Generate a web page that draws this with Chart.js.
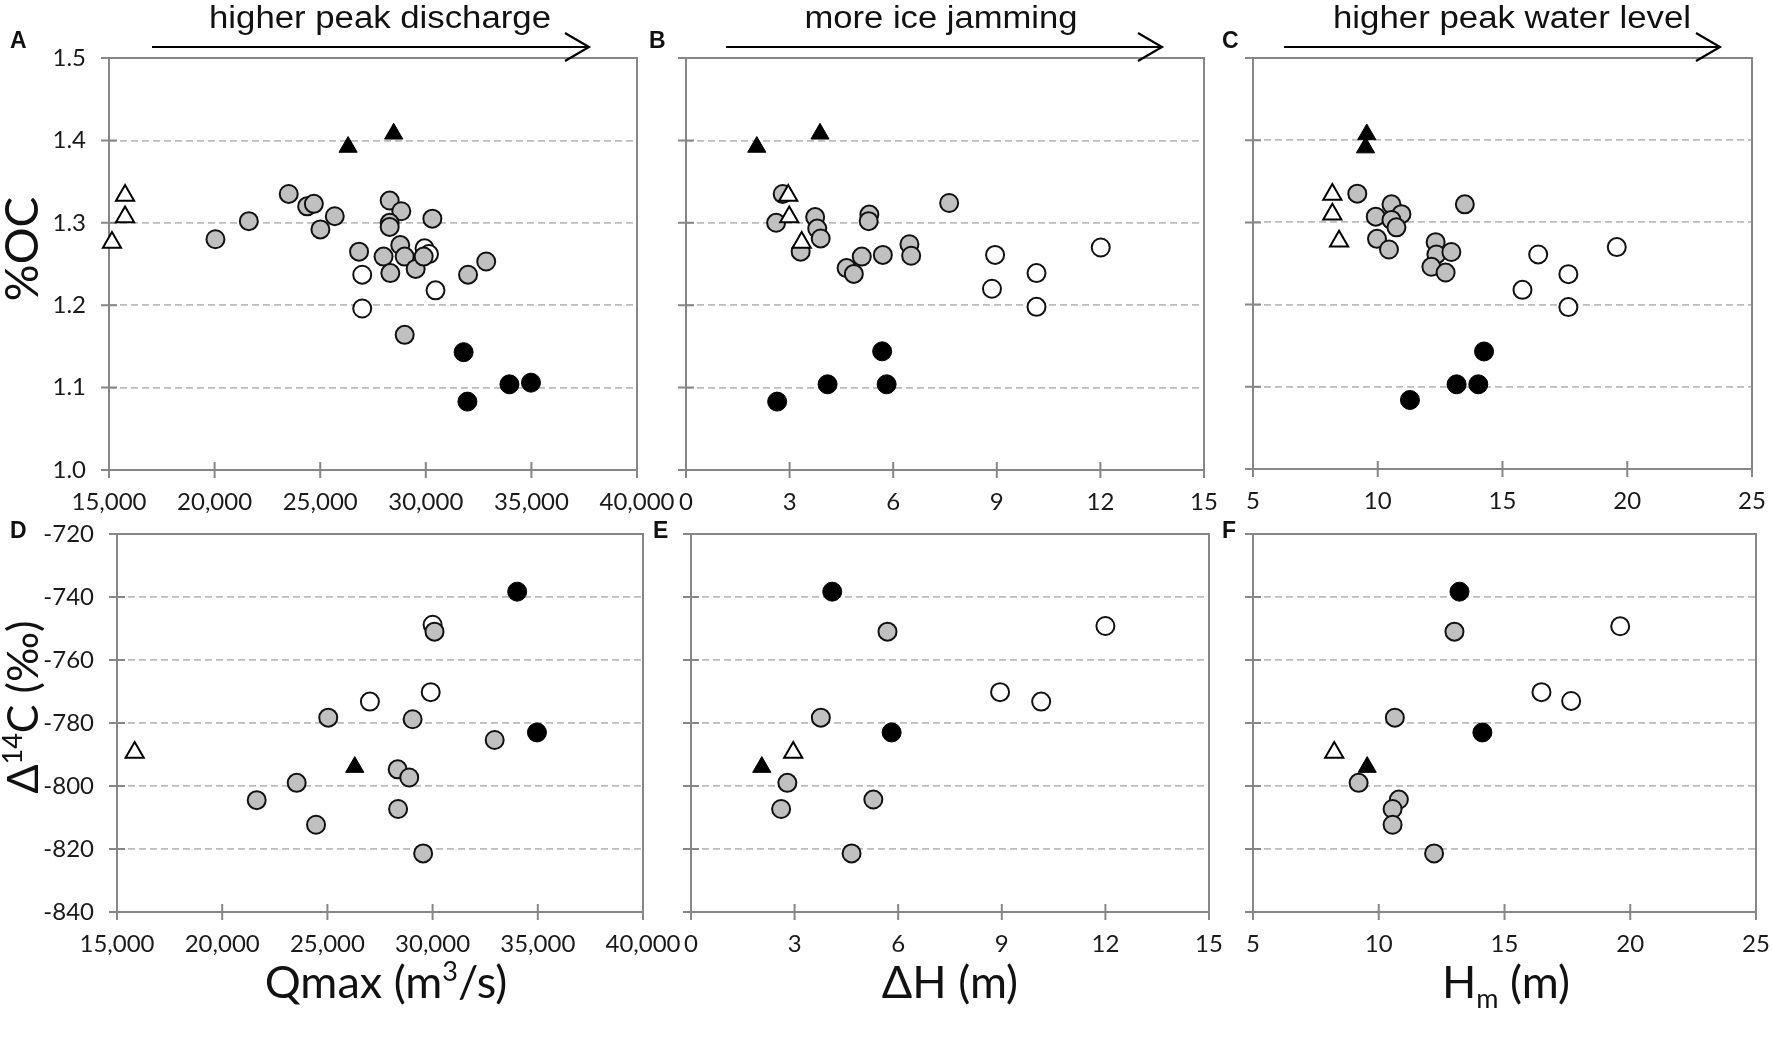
<!DOCTYPE html>
<html>
<head>
<meta charset="utf-8">
<script src="https://cdn.jsdelivr.net/npm/chart.js@4.4.1/dist/chart.umd.min.js"></script>
<style>
  html, body { margin: 0; padding: 0; background: #fff; }
  #fig { position: relative; width: 1772px; height: 1050px; overflow: hidden; background: #fff; }
  .panel { position: absolute; }
  #overlay { position: absolute; left: 0; top: 0; font-family: Lato, 'Open Sans', sans-serif; fill: #111; }
  .note { font-family: 'Liberation Sans', Arial, sans-serif; font-size: 31px; }
  .tag { font-family: 'Liberation Sans', Arial, sans-serif; font-size: 23px; font-weight: bold; }
  .ttl { font-size: 45px; }
</style>
</head>
<body>
<div id="fig">
  <div class="panel" id="pA"><canvas id="cA"></canvas></div>
  <div class="panel" id="pB"><canvas id="cB"></canvas></div>
  <div class="panel" id="pC"><canvas id="cC"></canvas></div>
  <div class="panel" id="pD"><canvas id="cD"></canvas></div>
  <div class="panel" id="pE"><canvas id="cE"></canvas></div>
  <div class="panel" id="pF"><canvas id="cF"></canvas></div>

  <svg id="overlay" width="1772" height="1050">
    <g stroke="#000" stroke-width="2.2" fill="none">
      <line x1="152" y1="47" x2="589" y2="47"/><polyline points="565,33 589,47 565,61"/>
      <line x1="726" y1="47" x2="1162" y2="47"/><polyline points="1138,33 1162,47 1138,61"/>
      <line x1="1284" y1="47" x2="1720" y2="47"/><polyline points="1696,33 1720,47 1696,61"/>
    </g>
    <text class="note" x="380" y="28" text-anchor="middle" textLength="342" lengthAdjust="spacingAndGlyphs">higher peak discharge</text>
    <text class="note" x="941" y="28" text-anchor="middle" textLength="273" lengthAdjust="spacingAndGlyphs">more ice jamming</text>
    <text class="note" x="1512" y="28" text-anchor="middle" textLength="358" lengthAdjust="spacingAndGlyphs">higher peak water level</text>

    <text class="tag" x="10" y="48">A</text>
    <text class="tag" x="649" y="48">B</text>
    <text class="tag" x="1222" y="48">C</text>
    <text class="tag" x="10" y="538">D</text>
    <text class="tag" x="653" y="538">E</text>
    <text class="tag" x="1222" y="538">F</text>

    <text transform="translate(38,249) rotate(-90)" text-anchor="middle" font-size="46">%OC</text>
    <text transform="translate(38,707) rotate(-90)" text-anchor="middle" font-size="43">Δ<tspan dy="-16" font-size="27">14</tspan><tspan dy="16">C (‰)</tspan></text>

    <text class="ttl" x="386" y="998" text-anchor="middle">Qmax (m<tspan dy="-17" font-size="27">3</tspan><tspan dy="17">/s)</tspan></text>
    <text class="ttl" x="950" y="998" text-anchor="middle">ΔH (m)</text>
    <text class="ttl" x="1506" y="998" text-anchor="middle">H<tspan dy="10" font-size="27">m</tspan><tspan dy="-10"> (m)</tspan></text>
  </svg>
</div>

<script>
// tick values for each axis
const QMAX_TICKS = [15000, 20000, 25000, 30000, 35000, 40000];
const DH_TICKS = [0, 3, 6, 9, 12, 15];
const HM_TICKS = [5, 10, 15, 20, 25];
const OC_TICKS = [1.0, 1.1, 1.2, 1.3, 1.4, 1.5];
const C14_TICKS = [-840, -820, -800, -780, -760, -740, -720];

// A: %OC vs Qmax
const A_openTri = [[15760, 1.333], [15760, 1.307], [15140, 1.276]];
const A_blackTri = [[26320, 1.392], [28480, 1.408]];
const A_black = [[31790, 1.143], [31970, 1.083], [33960, 1.104], [34980, 1.106]];
const A_gray = [[20040, 1.280], [21620, 1.302], [23510, 1.335], [24380, 1.320], [24700, 1.323],
  [25690, 1.308], [25010, 1.292], [26840, 1.265], [28290, 1.327], [28840, 1.314], [28290, 1.300],
  [28290, 1.295], [30310, 1.305], [28000, 1.259], [28320, 1.239], [28790, 1.273], [29000, 1.259],
  [29520, 1.244], [29900, 1.259], [32000, 1.237], [32860, 1.253], [29000, 1.164]];
const A_open = [[26990, 1.237], [26990, 1.196], [29940, 1.269], [30150, 1.262], [30460, 1.218]];

// B: %OC vs dH
const B_openTri = [[2.96, 1.333], [2.99, 1.307], [3.35, 1.276]];
const B_blackTri = [[2.05, 1.392], [3.88, 1.408]];
const B_black = [[5.68, 1.144], [4.10, 1.104], [5.81, 1.104], [2.64, 1.083]];
const B_gray = [[2.80, 1.335], [2.61, 1.300], [3.74, 1.307], [3.80, 1.293], [3.90, 1.281], [3.32, 1.265],
  [5.31, 1.310], [5.29, 1.302], [5.09, 1.259], [4.65, 1.245], [4.86, 1.238], [5.70, 1.261],
  [6.47, 1.274], [6.52, 1.260], [7.62, 1.324]];
const B_open = [[8.95, 1.261], [8.86, 1.220], [10.15, 1.239], [10.15, 1.198], [12.01, 1.270]];

// C: %OC vs Hm
const C_openTri = [[8.18, 1.334], [8.18, 1.310], [8.45, 1.277]];
const C_blackTri = [[9.51, 1.391], [9.56, 1.407]];
const C_black = [[14.26, 1.143], [13.16, 1.103], [14.03, 1.103], [11.29, 1.084]];
const C_gray = [[9.18, 1.335], [9.92, 1.307], [10.55, 1.322], [10.95, 1.310], [10.55, 1.303], [10.75, 1.294],
  [9.97, 1.280], [10.45, 1.267], [12.32, 1.276], [12.35, 1.261], [12.95, 1.264], [12.15, 1.246],
  [12.72, 1.239], [13.49, 1.322]];
const C_open = [[16.43, 1.261], [15.80, 1.218], [17.64, 1.237], [17.64, 1.197], [19.58, 1.270]];

// D: D14C vs Qmax
const D_openTri = [[15840, -789.4]];
const D_blackTri = [[26300, -794]];
const D_black = [[34020, -738.3], [34960, -783]];
const D_gray = [[30090, -751], [25040, -778.3], [29050, -778.8], [32950, -785.4], [28340, -794.7],
  [28890, -797.3], [23540, -799], [21640, -804.5], [28360, -807.3], [24460, -812.3], [29550, -821.4]];
const D_open = [[30000, -748.8], [29910, -770.2], [27020, -773.2]];

// E: D14C vs dH
const E_openTri = [[2.96, -789.4]];
const E_blackTri = [[2.05, -794]];
const E_black = [[4.09, -738.3], [5.81, -783]];
const E_gray = [[5.69, -751], [3.76, -778.3], [2.79, -799], [2.61, -807.3], [5.28, -804.3], [4.65, -821.4]];
const E_open = [[8.95, -770.2], [10.14, -773.2], [12.0, -749.2]];

// F: D14C vs Hm
const F_openTri = [[8.23, -789.4]];
const F_blackTri = [[9.54, -794]];
const F_black = [[13.21, -738.3], [14.12, -783]];
const F_gray = [[13.01, -751], [10.64, -778.3], [9.2, -799], [10.80, -804.3], [10.55, -807.3],
  [10.55, -812.3], [12.2, -821.4]];
const F_open = [[16.47, -770.2], [17.65, -773], [19.6, -749.3]];

const AXIS = '#878787';
const GRID = '#bcbcbc';
const TICK_FONT = { family: "Lato, 'Open Sans', sans-serif", size: 24 };
const Y_W = 100, X_H = 60, PAD_T = 45, PAD_R = 70;

const STYLE = {
  openTri: { pointStyle: 'triangle', pointRadius: 10.5, pointBackgroundColor: '#fff', pointBorderColor: '#000', pointBorderWidth: 2 },
  blackTri: { pointStyle: 'triangle', pointRadius: 10.5, pointBackgroundColor: '#000', pointBorderColor: '#000', pointBorderWidth: 1 },
  black: { pointStyle: 'circle', pointRadius: 9.5, pointBackgroundColor: '#000', pointBorderColor: '#000', pointBorderWidth: 1 },
  gray: { pointStyle: 'circle', pointRadius: 9, pointBackgroundColor: '#c0c0c0', pointBorderColor: '#111', pointBorderWidth: 2 },
  open: { pointStyle: 'circle', pointRadius: 9, pointBackgroundColor: '#fff', pointBorderColor: '#111', pointBorderWidth: 2 }
};

// frame + ticks that cross the axis lines
const framePlugin = {
  id: 'frame',
  beforeDatasetsDraw(chart) {
    const { ctx, chartArea: a, scales: { x, y } } = chart;
    ctx.save();
    ctx.strokeStyle = AXIS;
    ctx.lineWidth = 2;
    ctx.strokeRect(a.left, a.top, a.right - a.left, a.bottom - a.top);
    ctx.beginPath();
    x.ticks.forEach(t => {
      const px = x.getPixelForValue(t.value);
      ctx.moveTo(px, a.bottom - 8);
      ctx.lineTo(px, a.bottom + 8);
    });
    y.ticks.forEach(t => {
      const py = y.getPixelForValue(t.value);
      ctx.moveTo(a.left - 8, py);
      ctx.lineTo(a.left + 8, py);
    });
    ctx.stroke();
    ctx.restore();
  }
};

function makePanel(id, box, xTicks, yTicks, showY, groups, xFmt, yFmt) {
  const holder = document.getElementById('p' + id);
  const w = box.r - box.l + Y_W + PAD_R;
  const h = box.b - box.t + PAD_T + X_H;
  holder.style.left = (box.l - Y_W) + 'px';
  holder.style.top = (box.t - PAD_T) + 'px';
  const canvas = document.getElementById('c' + id);
  canvas.width = w; canvas.height = h;
  canvas.style.width = w + 'px'; canvas.style.height = h + 'px';

  const yLast = yTicks[yTicks.length - 1];
  new Chart(canvas, {
    type: 'scatter',
    data: {
      datasets: groups.map(([kind, pts]) => ({
        data: pts.map(p => ({ x: p[0], y: p[1] })),
        clip: false,
        ...STYLE[kind],
        pointHoverRadius: STYLE[kind].pointRadius
      }))
    },
    options: {
      responsive: false,
      animation: false,
      events: [],
      layout: { padding: { top: PAD_T, right: PAD_R, left: 0, bottom: 0 } },
      plugins: { legend: { display: false }, tooltip: { enabled: false } },
      scales: {
        x: {
          type: 'linear',
          min: xTicks[0], max: xTicks[xTicks.length - 1],
          afterBuildTicks: s => { s.ticks = xTicks.map(v => ({ value: v })); },
          afterFit: s => { s.height = X_H; },
          grid: { display: false },
          border: { display: false },
          ticks: { autoSkip: false, maxRotation: 0, minRotation: 0, padding: 10, color: '#1a1a1a', font: TICK_FONT, callback: xFmt }
        },
        y: {
          type: 'linear',
          min: yTicks[0], max: yLast,
          afterBuildTicks: s => { s.ticks = yTicks.map(v => ({ value: v })); },
          afterFit: s => { s.width = Y_W; },
          grid: {
            drawTicks: false,
            lineWidth: 1.8,
            color: c => (c.tick && (c.tick.value === yTicks[0] || c.tick.value === yLast)) ? 'rgba(0,0,0,0)' : GRID
          },
          border: { display: false, dash: [7, 4] },
          ticks: { display: showY, padding: 23, color: '#1a1a1a', font: TICK_FONT, callback: yFmt }
        }
      }
    },
    plugins: [framePlugin]
  });
}

const fmtQ = v => v.toLocaleString('en-US');
const fmtN = v => String(v);
const fmtOC = v => v.toFixed(1);

const LAYOUT = {
  A: { l: 109, r: 637, t: 58, b: 470 },
  B: { l: 686, r: 1204, t: 58, b: 470 },
  C: { l: 1253, r: 1752, t: 58, b: 469 },
  D: { l: 117, r: 643, t: 534, b: 912 },
  E: { l: 691, r: 1209, t: 534, b: 912 },
  F: { l: 1253, r: 1756, t: 534, b: 912 }
};

makePanel('A', LAYOUT.A, QMAX_TICKS, OC_TICKS, true,
  [['openTri', A_openTri], ['blackTri', A_blackTri], ['black', A_black], ['gray', A_gray], ['open', A_open]], fmtQ, fmtOC);
makePanel('B', LAYOUT.B, DH_TICKS, OC_TICKS, false,
  [['openTri', B_openTri], ['blackTri', B_blackTri], ['black', B_black], ['gray', B_gray], ['open', B_open]], fmtN, fmtOC);
makePanel('C', LAYOUT.C, HM_TICKS, OC_TICKS, false,
  [['openTri', C_openTri], ['blackTri', C_blackTri], ['black', C_black], ['gray', C_gray], ['open', C_open]], fmtN, fmtOC);
makePanel('D', LAYOUT.D, QMAX_TICKS, C14_TICKS, true,
  [['openTri', D_openTri], ['blackTri', D_blackTri], ['black', D_black], ['gray', D_gray], ['open', D_open]], fmtQ, fmtN);
makePanel('E', LAYOUT.E, DH_TICKS, C14_TICKS, false,
  [['openTri', E_openTri], ['blackTri', E_blackTri], ['black', E_black], ['gray', E_gray], ['open', E_open]], fmtN, fmtN);
makePanel('F', LAYOUT.F, HM_TICKS, C14_TICKS, false,
  [['openTri', F_openTri], ['blackTri', F_blackTri], ['black', F_black], ['gray', F_gray], ['open', F_open]], fmtN, fmtN);
</script>
</body>
</html>
